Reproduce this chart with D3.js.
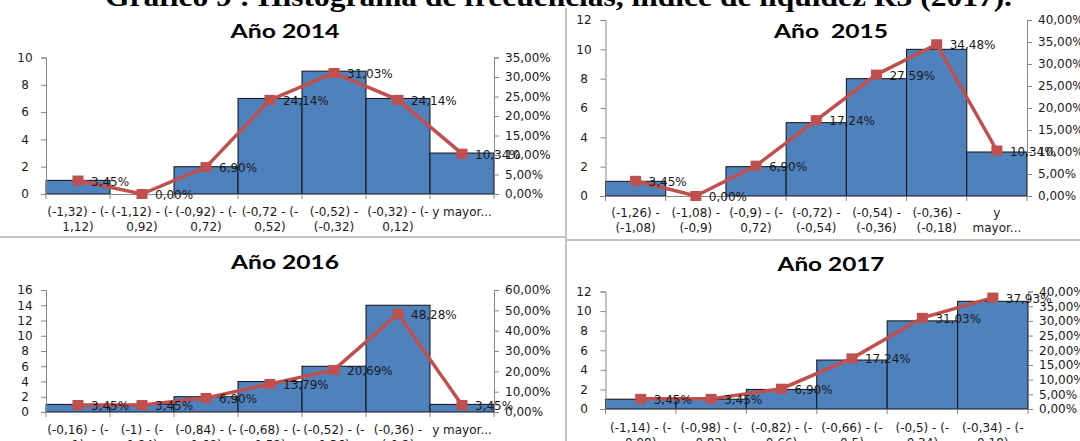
<!DOCTYPE html>
<html><head><meta charset="utf-8">
<script src="https://cdn.jsdelivr.net/npm/d3@7"></script>
<style>body{margin:0;background:#fff}svg{display:block}</style>
</head><body>
<svg id="c" width="1080" height="441"></svg>
<script>
// ---------- DATA ----------
const mainTitle = "Gráfico 9 : Histograma de frecuencias, índice de liquidez R3 (2017).";
const panelTitles = ["Año 2014", "Año  2015", "Año 2016", "Año 2017"];

const bins2014 = [["(-1,32) - (-","1,12)"],["(-1,12) - (-","0,92)"],["(-0,92) - (-","0,72)"],["(-0,72 - (-","0,52)"],["(-0,52) -","(-0,32)"],["(-0,32) - (-","0,12)"],["y mayor..."]];
const freq2014 = [1, 0, 2, 7, 9, 7, 3];
const pct2014  = [3.45, 0.00, 6.90, 24.14, 31.03, 24.14, 10.34];
const leftTicks2014  = [0, 2, 4, 6, 8, 10];
const rightTicks2014 = [0, 5, 10, 15, 20, 25, 30, 35];

const bins2015 = [["(-1,26) -","(-1,08)"],["(-1,08) -","(-0,9)"],["(-0,9) - (-","0,72)"],["(-0,72) -","(-0,54)"],["(-0,54) -","(-0,36)"],["(-0,36) -","(-0,18)"],["y","mayor..."]];
const freq2015 = [1, 0, 2, 5, 8, 10, 3];
const pct2015  = [3.45, 0.00, 6.90, 17.24, 27.59, 34.48, 10.34];
const leftTicks2015  = [0, 2, 4, 6, 8, 10, 12];
const rightTicks2015 = [0, 5, 10, 15, 20, 25, 30, 35, 40];

const bins2016 = [["(-0,16) - (-","1)"],["(-1) - (-","0,84)"],["(-0,84) - (-","0,68)"],["(-0,68) - (-","0,52)"],["(-0,52) - (-","0,36)"],["(-0,36) -","(-0,2)"],["y mayor..."]];
const freq2016 = [1, 1, 2, 4, 6, 14, 1];
const pct2016  = [3.45, 3.45, 6.90, 13.79, 20.69, 48.28, 3.45];
const leftTicks2016  = [0, 2, 4, 6, 8, 10, 12, 14, 16];
const rightTicks2016 = [0, 10, 20, 30, 40, 50, 60];

const bins2017 = [["(-1,14) - (-","0,98)"],["(-0,98) - (-","0,82)"],["(-0,82) - (-","0,66)"],["(-0,66) - (-","0,5)"],["(-0,5) - (-","0,34)"],["(-0,34) - (-","0,18)"]];
const freq2017 = [1, 1, 2, 5, 9, 11];
const pct2017  = [3.45, 3.45, 6.90, 17.24, 31.03, 37.93];
const leftTicks2017  = [0, 2, 4, 6, 8, 10, 12];
const rightTicks2017 = [0, 5, 10, 15, 20, 25, 30, 35, 40];

// ---------- LAYOUT ----------
const layout = [
  {x0: 46,    x1: 494,  yTop: 57.5, yBot: 194, tx: 285, ty: 30,  tw: 109, lx: 25,  row1: 212},
  {x0: 605.5, x1: 1027, yTop: 20,   yBot: 196, tx: 831, ty: 30,  tw: 114, lx: 584, row1: 213},
  {x0: 46,    x1: 494,  yTop: 290,  yBot: 412, tx: 285, ty: 261, tw: 108, lx: 25,  row1: 430},
  {x0: 605.5, x1: 1028, yTop: 291.5,yBot: 409, tx: 831, ty: 263, tw: 107, lx: 584, row1: 428}
];
const panels = [
  [bins2014, freq2014, pct2014, leftTicks2014, rightTicks2014],
  [bins2015, freq2015, pct2015, leftTicks2015, rightTicks2015],
  [bins2016, freq2016, pct2016, leftTicks2016, rightTicks2016],
  [bins2017, freq2017, pct2017, leftTicks2017, rightTicks2017]
];

const BAR = "#4F81BD", LINE = "#C0504D", AXIS = "#868686", TXT = "#1a1a1a";
const SMALL = "'DejaVu Sans', Verdana, sans-serif";
const loc = d3.formatLocale({decimal: ",", thousands: ".", grouping: [3], currency: ["", "€"]});
const f2 = loc.format(".2f");

const svg = d3.select("#c");

// separators
svg.append("line").attr("x1", 566).attr("x2", 566).attr("y1", 8).attr("y2", 441).attr("stroke", "#c4c4c4").attr("stroke-width", 2);
svg.append("line").attr("x1", 0).attr("x2", 566).attr("y1", 237).attr("y2", 237).attr("stroke", "#c4c4c4").attr("stroke-width", 2);
svg.append("line").attr("x1", 566).attr("x2", 1080).attr("y1", 240).attr("y2", 240).attr("stroke", "#c4c4c4").attr("stroke-width", 2);

// main title (cut at top)
svg.append("text").attr("x", 105).attr("y", 6).attr("textLength", 907).attr("lengthAdjust", "spacingAndGlyphs")
  .attr("font-family", "'Liberation Serif', 'Times New Roman', serif").attr("font-weight", "bold").attr("font-size", 27)
  .attr("fill", "#000").text(mainTitle);

panels.forEach((p, k) => {
  const [cats, freq, pct, lt, rt] = p;
  const cfg = layout[k];
  const g = svg.append("g");
  const x = d3.scaleBand().domain(d3.range(cats.length)).range([cfg.x0, cfg.x1]).padding(0);
  const yL = d3.scaleLinear().domain([0, d3.max(lt)]).range([cfg.yBot, cfg.yTop]);
  const yR = d3.scaleLinear().domain([0, d3.max(rt)]).range([cfg.yBot, cfg.yTop]);
  const bw = x.bandwidth();

  // bars
  g.selectAll("rect.bar").data(freq.map((v, i) => ({v, i})).filter(d => d.v > 0)).join("rect")
    .attr("x", d => x(d.i)).attr("y", d => yL(d.v)).attr("width", bw).attr("height", d => cfg.yBot - yL(d.v))
    .attr("fill", BAR).attr("stroke", "#111").attr("stroke-width", 1);

  // left axis
  const la = g.append("g").attr("transform", `translate(${cfg.x0},0)`)
    .call(d3.axisLeft(yL).tickValues(lt).tickSize(5).tickSizeOuter(5).tickFormat(d3.format("d")));
  la.selectAll("path,line").attr("stroke", AXIS);
  la.selectAll("text").attr("x", cfg.lx - cfg.x0).attr("text-anchor", "middle")
    .attr("font-family", SMALL).attr("font-size", 12).attr("fill", TXT);

  // right axis
  const ra = g.append("g").attr("transform", `translate(${cfg.x1},0)`)
    .call(d3.axisRight(yR).tickValues(rt).tickSize(5).tickSizeOuter(5).tickFormat(d => f2(d) + "%"));
  ra.selectAll("path,line").attr("stroke", AXIS);
  ra.selectAll("text").attr("x", 11).attr("text-anchor", "start")
    .attr("font-family", SMALL).attr("font-size", 12).attr("fill", TXT);

  // bottom axis
  g.append("line").attr("x1", cfg.x0).attr("x2", cfg.x1).attr("y1", cfg.yBot + 0.5).attr("y2", cfg.yBot + 0.5).attr("stroke", AXIS);
  g.selectAll("line.xt").data(d3.range(cats.length + 1)).join("line")
    .attr("x1", i => i < cats.length ? x(i) : cfg.x1).attr("x2", i => i < cats.length ? x(i) : cfg.x1)
    .attr("y1", cfg.yBot).attr("y2", cfg.yBot + 5).attr("stroke", AXIS);
  const xl = g.selectAll("text.xl").data(cats).join("text")
    .attr("x", (d, i) => x(i) + bw / 2).attr("y", cfg.row1).attr("text-anchor", "middle")
    .attr("dominant-baseline", "central").attr("font-family", SMALL).attr("font-size", 12).attr("fill", TXT);
  xl.selectAll("tspan").data(d => d).join("tspan")
    .attr("x", function () { return this.parentNode.getAttribute("x"); })
    .attr("dy", (d, j) => j === 0 ? 0 : 15).text(d => d);

  // line + markers
  const line = d3.line().x((d, i) => x(i) + bw / 2).y(d => yR(d));
  g.append("path").datum(pct).attr("d", line).attr("fill", "none").attr("stroke", LINE).attr("stroke-width", 3.5);
  g.selectAll("rect.mk").data(pct).join("rect")
    .attr("x", (d, i) => x(i) + bw / 2 - 5.5).attr("y", d => yR(d) - 5).attr("width", 11).attr("height", 10)
    .attr("fill", LINE);
  g.selectAll("text.dl").data(pct).join("text")
    .attr("x", (d, i) => x(i) + bw / 2 + 13).attr("y", d => yR(d) + 1)
    .attr("dominant-baseline", "central").attr("font-family", SMALL).attr("font-size", 12).attr("fill", TXT)
    .text(d => f2(d) + "%");

  // title
  g.append("text").attr("x", cfg.tx).attr("y", cfg.ty).attr("text-anchor", "middle").attr("dominant-baseline", "central")
    .attr("font-family", "Lato, 'Open Sans', sans-serif").attr("font-weight", "bold").attr("font-size", 19)
    .attr("textLength", cfg.tw).attr("lengthAdjust", "spacingAndGlyphs").attr("fill", "#000")
    .attr("xml:space", "preserve").text(panelTitles[k]);
});
</script>
</body></html>
